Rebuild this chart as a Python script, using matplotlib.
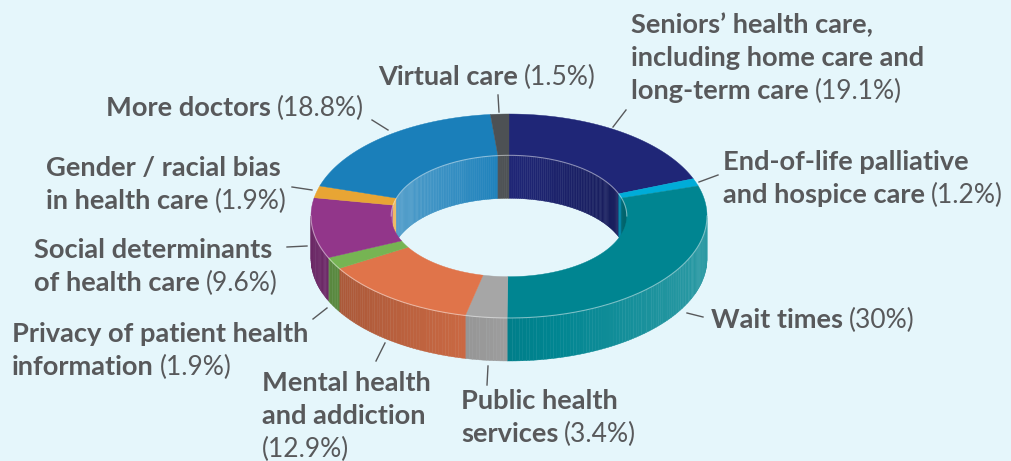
import numpy as np
import matplotlib
matplotlib.use("Agg")
import matplotlib.pyplot as plt
from matplotlib.collections import PolyCollection
from matplotlib.colors import to_rgb

# slices, clockwise from 12 o'clock
names = ["Seniors' health care", "End-of-life palliative and hospice care", "Wait times",
         "Public health services", "Mental health and addiction",
         "Privacy of patient health information", "Social determinants of health care",
         "Gender / racial bias in health care", "More doctors", "Virtual care"]
values = [19.1, 1.2, 30, 3.4, 12.9, 1.9, 9.6, 1.9, 18.8, 1.5]
colors = ["#1f2677", "#00acd8", "#008591", "#a6a6a6", "#e0744a",
          "#76b453", "#92368a", "#e8a534", "#1a7fba", "#4d5154"]
pct_text = ["(19.1%)", "(1.2%)", "(30%)", "(3.4%)", "(12.9%)",
            "(1.9%)", "(9.6%)", "(1.9%)", "(18.8%)", "(1.5%)"]
label_lines = [
    ["Seniors\u2019 health care,", "including home care and", "long-term care"],
    ["End-of-life palliative", "and hospice care"],
    ["Wait times"],
    ["Public health", "services"],
    ["Mental health", "and addiction", ""],
    ["Privacy of patient health", "information"],
    ["Social determinants", "of health care"],
    ["Gender / racial bias", "in health care"],
    ["More doctors"],
    ["Virtual care"],
]

BG = "#e5f6fb"
TXT = "#58595b"

# geometry of the tilted ring (pixels)
cx, cy = 509, 216
A, B = 198, 102
RIN = 0.595
DEPTH = 43


def pt(theta, r=1.0, dy=0.0):
    t = np.radians(theta)
    return cx + r * A * np.sin(t), cy - r * B * np.cos(t) + dy


def shade(c, f):
    c = np.array(to_rgb(c))
    if f >= 1:
        return tuple(c + (1 - c) * (f - 1))
    return tuple(c * f)


fig = plt.figure(figsize=(10.12, 4.61), dpi=100)
fig.patch.set_facecolor(BG)
ax = fig.add_axes([0, 0, 1, 1])
ax.set_xlim(0, 1012)
ax.set_ylim(461, 0)
ax.axis("off")

total = sum(values)
edges = np.concatenate([[0], np.cumsum(values) / total * 360])

# inner back wall
polys, cols = [], []
for i, c in enumerate(colors):
    t0, t1 = edges[i], edges[i + 1]
    for lo, hi in [(t0, t1), (t0 - 360, t1 - 360)]:
        lo2, hi2 = max(lo, -90), min(hi, 90)
        if hi2 <= lo2:
            continue
        ts = np.arange(lo2, hi2, 1.0).tolist() + [hi2]
        for a0, a1 in zip(ts[:-1], ts[1:]):
            x0, y0 = pt(a0, RIN)
            x1, y1 = pt(a1, RIN)
            polys.append([(x0, y0), (x1, y1), (x1, y1 + DEPTH), (x0, y0 + DEPTH)])
            cols.append(shade(c, 1.0 - 0.25 * np.sin(np.radians((a0 + a1) / 2))))
ax.add_collection(PolyCollection(polys, facecolors=cols, edgecolors=cols, linewidths=0.3, zorder=1))

# outer front wall
polys, cols = [], []
for i, c in enumerate(colors):
    lo2, hi2 = max(edges[i], 90), min(edges[i + 1], 270)
    if hi2 <= lo2:
        continue
    ts = np.arange(lo2, hi2, 1.0).tolist() + [hi2]
    for a0, a1 in zip(ts[:-1], ts[1:]):
        x0, y0 = pt(a0)
        x1, y1 = pt(a1)
        polys.append([(x0, y0), (x1, y1), (x1, y1 + DEPTH), (x0, y0 + DEPTH)])
        cols.append(shade(c, 0.95 + 0.22 * np.sin(np.radians((a0 + a1) / 2))))
ax.add_collection(PolyCollection(polys, facecolors=cols, edgecolors=cols, linewidths=0.3, zorder=2))

# top face
for i, c in enumerate(colors):
    ts = np.linspace(edges[i], edges[i + 1], 100)
    outer = np.column_stack(pt(ts))
    inner = np.column_stack(pt(ts[::-1], RIN))
    ax.fill(np.r_[outer[:, 0], inner[:, 0]], np.r_[outer[:, 1], inner[:, 1]],
            color=c, lw=0.3, ec=c, zorder=3)

# faint highlight on ring edges
ts = np.linspace(90, 270, 200)
ax.plot(*pt(ts), color="white", lw=0.8, alpha=0.45, zorder=4)
ts = np.linspace(-90, 90, 200)
ax.plot(*pt(ts, RIN), color="white", lw=0.8, alpha=0.45, zorder=4)

# labels: (left x, centre y of first line)
label_pos = [(631, 25), (723, 162), (711, 320), (461, 401), (262, 383),
             (12, 334), (34, 250), (46, 168), (106, 108), (378, 77)]
leaders = [((626, 110), (613, 127)), ((718, 175), (699, 182)), ((687, 313), (703, 317)),
           ((488, 366), (487, 385)), ((385, 343), (376, 361)), ((327, 308), (313, 319)),
           ((287, 247), (307, 246)), ((292, 187), (312, 190)), ((372, 120), (388, 130)),
           ((498, 95), (499, 112))]
LINE = 33
FS_NAME = 19.6
FS_PCT = 19.0
FAM = ["Lato", "DejaVu Sans"]

renderer = fig.canvas.get_renderer()
for lines, pct, (x, y) in zip(label_lines, pct_text, label_pos):
    last = None
    for j, ln in enumerate(lines):
        last = ax.text(x, y + j * LINE, ln, fontsize=FS_NAME, family=FAM, weight="bold",
                       color=TXT, ha="left", va="center")
    yl = y + (len(lines) - 1) * LINE
    if lines[-1]:
        bb = last.get_window_extent(renderer)
        xr = ax.transData.inverted().transform((bb.x1, bb.y0))[0] + 6
    else:
        xr = x
    ax.text(xr, yl, pct, fontsize=FS_PCT, family=FAM, color=TXT, ha="left", va="center")

for (p0, p1) in leaders:
    ax.plot([p0[0], p1[0]], [p0[1], p1[1]], color=TXT, lw=1, zorder=5)

fig.savefig("out.png", dpi=100, facecolor=BG)
